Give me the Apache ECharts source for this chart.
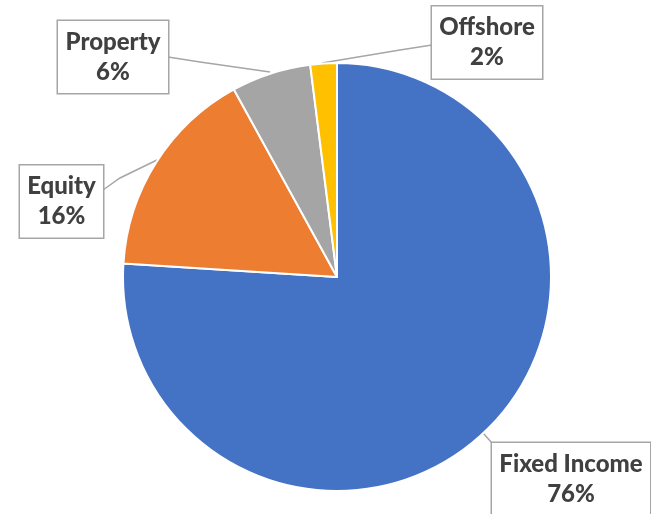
<!DOCTYPE html>
<html><head><meta charset="utf-8">
<script src="https://cdn.jsdelivr.net/npm/echarts@6/dist/echarts.min.js"></script>
<style>html,body{margin:0;padding:0;background:#fff}#c{width:651px;height:514px}</style>
</head><body><div id="c"></div>
<script>
const categories = ['Fixed Income', 'Equity', 'Property', 'Offshore'];
const values = [76, 16, 6, 2];
const colors = ['#4472C4', '#ED7D31', '#A5A5A5', '#FFC000'];

// label box centres, inner widths and leader line anchors (layout only)
const labelPos = [
  {x: 571, y: 479, w: 144, pts: [[483, 433], [492, 443], [500, 443]]},
  {x: 61.5, y: 201.5, w: 69, pts: [[157, 160], [120, 178], [103, 190]]},
  {x: 113, y: 57, w: 96, pts: [[270, 72], [200, 62], [168, 57]]},
  {x: 487, y: 42.5, w: 96, pts: [[322, 63], [400, 50], [432, 45]]}
];

const chart = echarts.init(document.getElementById('c'), null, {renderer: 'canvas'});
chart.setOption({
  animation: false,
  color: colors,
  series: [{
    type: 'pie',
    left: 0, top: 0, right: -400, bottom: 0,
    center: [337, 277],
    radius: 214,
    startAngle: 90,
    clockwise: true,
    data: categories.map((n, i) => ({name: n, value: values[i], label: {width: labelPos[i].w}})),
    itemStyle: {borderColor: '#fff', borderWidth: 2},
    label: {
      show: true,
      formatter: '{b}\n{d}%',
      fontFamily: 'Lato',
      fontWeight: 900,
      fontSize: 24,
      lineHeight: 30,
      color: '#404040',
      backgroundColor: '#fff',
      borderColor: '#a6a6a6',
      borderWidth: 1.5,
      padding: [6, 7, 6, 7],
      align: 'center',
      overflow: 'none'
    },
    labelLine: {show: true, lineStyle: {color: '#a6a6a6', width: 1.5}},
    labelLayout: function (p) {
      const lp = labelPos[p.dataIndex];
      return {x: lp.x, y: lp.y, align: 'center', verticalAlign: 'middle', labelLinePoints: lp.pts};
    }
  }]
});
</script></body></html>
